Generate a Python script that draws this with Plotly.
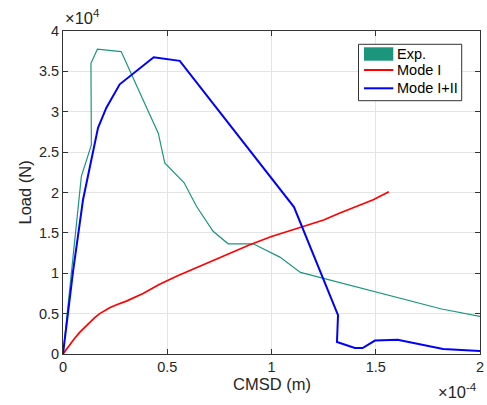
import plotly.graph_objects as go

# Values in display units: x in 1e-4 m, y in 1e4 N
exp_x = [0, 0.088, 0.136, 0.134, 0.165, 0.279, 0.381, 0.457, 0.488, 0.581, 0.64, 0.72, 0.792, 0.912, 1.04, 1.139, 1.816, 2.0]
exp_y = [0, 2.20, 2.59, 3.60, 3.775, 3.745, 3.165, 2.735, 2.365, 2.12, 1.83, 1.52, 1.365, 1.365, 1.20, 1.01, 0.557, 0.465]

m1_x = [0, 0.016, 0.032, 0.056, 0.08, 0.104, 0.128, 0.152, 0.176, 0.2, 0.224, 0.26, 0.304, 0.384, 0.461,
        0.55, 0.65, 0.75, 0.896, 1.0, 1.152, 1.25, 1.328, 1.41, 1.488, 1.563]
m1_y = [0, 0.06, 0.115, 0.195, 0.267, 0.332, 0.391, 0.45, 0.50, 0.54, 0.572, 0.612, 0.655, 0.75, 0.86,
        0.97, 1.08, 1.19, 1.353, 1.455, 1.58, 1.66, 1.745, 1.83, 1.91, 2.01]

m12_x = [0, 0.048, 0.096, 0.168, 0.208, 0.272, 0.435, 0.56, 1.108, 1.319, 1.314, 1.40, 1.437, 1.496, 1.605, 1.823, 2.0]
m12_y = [0, 1.02, 1.91, 2.80, 3.05, 3.34, 3.675, 3.63, 1.82, 0.48, 0.149, 0.074, 0.074, 0.166, 0.177, 0.062, 0.036]

x_ticks = [0, 0.5, 1, 1.5, 2]
x_tick_labels = ["0", "0.5", "1", "1.5", "2"]
y_ticks = [0, 0.5, 1, 1.5, 2, 2.5, 3, 3.5, 4]
y_tick_labels = ["0", "0.5", "1", "1.5", "2", "2.5", "3", "3.5", "4"]

series_names = ["Exp.", "Mode I", "Mode I+II"]

green = "#1b967d"
red = "#ff0000"
blue = "#0000ff"
font_fam = "Liberation Sans, Arial, Helvetica, sans-serif"
axc = "#262626"

W, H = 487, 405
L, R, T, B = 63, 7, 31, 51
PW, PH = W - L - R, H - T - B


def px(xp):
    return (xp - L) / PW


def py(yp):
    return (H - B - yp) / PH


fig = go.Figure()
fig.add_trace(go.Scatter(x=exp_x, y=exp_y, mode="lines", line=dict(color=green, width=1.2),
                         name=series_names[0], showlegend=False))
fig.add_trace(go.Scatter(x=m1_x, y=m1_y, mode="lines", line=dict(color=red, width=1.7),
                         name=series_names[1], showlegend=False))
fig.add_trace(go.Scatter(x=m12_x, y=m12_y, mode="lines", line=dict(color=blue, width=2),
                         name=series_names[2], showlegend=False))

axis_common = dict(showgrid=True, gridcolor="#e4e4e4", gridwidth=1, zeroline=False,
                   showline=True, linecolor="#333333", linewidth=1, mirror="allticks",
                   ticks="inside", ticklen=5, tickcolor="#333333", automargin=False,
                   ticklabeloverflow="allow",
                   tickfont=dict(family=font_fam, size=14.5, color=axc))

fig.update_xaxes(range=[0, 2], tickvals=x_ticks, ticktext=x_tick_labels, **axis_common)
fig.update_yaxes(range=[0, 4], tickvals=y_ticks, ticktext=y_tick_labels, **axis_common)

lab_font = dict(family=font_fam, size=16.5, color=axc)
fig.add_annotation(xref="paper", yref="paper", x=px(272), y=py(384), text="CMSD (m)",
                   showarrow=False, xanchor="center", yanchor="middle", font=lab_font)
fig.add_annotation(xref="paper", yref="paper", x=px(24), y=0.5, text="Load (N)", textangle=-90,
                   showarrow=False, xanchor="center", yanchor="middle", font=lab_font)

exp_font = dict(family=font_fam, size=16.5, color=axc)
fig.add_annotation(xref="paper", yref="paper", x=px(63), y=py(29), xanchor="left", yanchor="bottom",
                   text="×10<sup>4</sup>", showarrow=False, font=exp_font)
fig.add_annotation(xref="paper", yref="paper", x=px(436), y=py(403), xanchor="left", yanchor="bottom",
                   text="×10<sup>-4</sup>", showarrow=False, font=exp_font)

# manual legend (MATLAB style)
leg_font = dict(family=font_fam, size=14.5, color="black")
fig.add_shape(type="rect", xref="paper", yref="paper", x0=px(358.5), x1=px(461.7), y0=py(100.7), y1=py(44.3),
              line=dict(color="#333333", width=1), fillcolor="white", layer="above")
fig.add_shape(type="rect", xref="paper", yref="paper", x0=px(364), x1=px(393.3), y0=py(60.7), y1=py(47.3),
              line=dict(width=0), fillcolor=green, layer="above")
for yy, col in [(70, red), (88.3, blue)]:
    fig.add_shape(type="line", xref="paper", yref="paper", x0=px(364), x1=px(393.3), y0=py(yy), y1=py(yy),
                  line=dict(color=col, width=2), layer="above")
for yy, name in zip([54, 70, 88.3], series_names):
    fig.add_annotation(xref="paper", yref="paper", x=px(394.5), y=py(yy), text=name, showarrow=False,
                       xanchor="left", yanchor="middle", font=leg_font)

fig.update_layout(width=W, height=H, margin=dict(l=L, r=R, t=T, b=B),
                  paper_bgcolor="white", plot_bgcolor="white", showlegend=False)
fig.write_html("out.html", config={"displayModeBar": False},
               post_script="document.body.style.margin='0';document.body.style.overflow='hidden';")
